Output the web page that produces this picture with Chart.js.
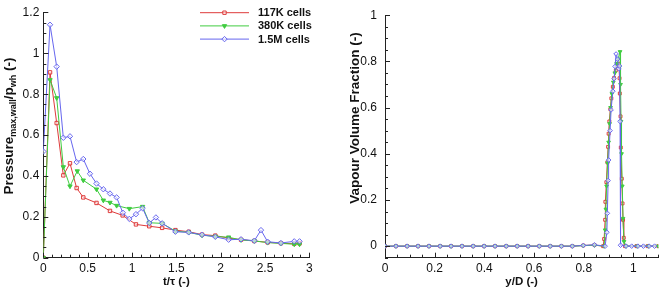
<!DOCTYPE html>
<html>
<head>
<meta charset="utf-8">
<script src="https://cdn.jsdelivr.net/npm/chart.js@4.4.0/dist/chart.umd.min.js"></script>
<style>
  html, body { margin: 0; padding: 0; background: #fff; }
  #wrap { position: relative; width: 664px; height: 298px; }
  .box { position: absolute; top: 0; width: 332px; height: 298px; }
</style>
</head>
<body>
<div id="wrap">
  <div class="box" style="left:0"><canvas id="left"></canvas></div>
  <div class="box" style="left:332px"><canvas id="right"></canvas></div>
</div>
<script>
// series names + colours
var seriesNames = ['117K cells', '380K cells', '1.5M cells'];
var colors = ['#de3a3a', '#40cc40', '#6666ee'];

// left plot: max wall pressure vs t/tau
var t117 = [0, 0.076, 0.151, 0.226, 0.301, 0.376, 0.451, 0.6, 0.752, 0.895, 1.045, 1.195, 1.34, 1.49, 1.64, 1.79, 1.94, 2.09, 2.23, 2.38, 2.53, 2.68, 2.83, 2.89];
var p117 = [0, 0.907, 0.659, 0.403, 0.462, 0.341, 0.295, 0.268, 0.229, 0.207, 0.163, 0.154, 0.146, 0.135, 0.127, 0.113, 0.108, 0.096, 0.088, 0.082, 0.075, 0.071, 0.068, 0.07];
var t380 = [0, 0.076, 0.151, 0.226, 0.301, 0.383, 0.451, 0.6, 0.677, 0.752, 0.827, 0.97, 1.12, 1.195, 1.34, 1.49, 1.64, 1.79, 1.94, 2.09, 2.23, 2.38, 2.53, 2.68, 2.83, 2.89];
var p380 = [0, 0.87, 0.782, 0.444, 0.35, 0.424, 0.379, 0.335, 0.281, 0.27, 0.255, 0.24, 0.25, 0.171, 0.168, 0.13, 0.124, 0.11, 0.104, 0.1, 0.087, 0.082, 0.074, 0.07, 0.066, 0.066];
var t15 = [0, 0.076, 0.151, 0.226, 0.301, 0.376, 0.451, 0.526, 0.6, 0.677, 0.752, 0.827, 0.897, 0.97, 1.045, 1.12, 1.195, 1.27, 1.34, 1.49, 1.64, 1.79, 1.94, 2.09, 2.23, 2.38, 2.455, 2.53, 2.68, 2.83, 2.89];
var p15 = [0.52, 1.14, 0.935, 0.587, 0.594, 0.468, 0.483, 0.411, 0.363, 0.335, 0.314, 0.295, 0.22, 0.19, 0.213, 0.242, 0.17, 0.197, 0.168, 0.127, 0.124, 0.112, 0.102, 0.088, 0.09, 0.083, 0.135, 0.078, 0.072, 0.08, 0.08];
var tTicks = [0, 0.5, 1, 1.5, 2, 2.5, 3];
var pTicks = [0, 0.2, 0.4, 0.6, 0.8, 1, 1.2];

// right plot: vapour volume fraction vs y/D
var yd117 = [0, 0.044, 0.089, 0.133, 0.177, 0.222, 0.266, 0.31, 0.355, 0.399, 0.443, 0.488, 0.532, 0.576, 0.621, 0.665, 0.71, 0.754, 0.798, 0.843, 0.878, 0.882, 0.886, 0.887, 0.891, 0.895, 0.898, 0.9, 0.903, 0.907, 0.911, 0.917, 0.922, 0.929, 0.936, 0.941, 0.944, 0.945, 0.948, 0.949, 0.953, 0.956, 0.958, 0.961, 0.966, 1.012, 1.057, 1.1];
var vf117 = [0, 0, 0, 0, 0, 0, 0, 0, 0, 0, 0, 0, 0, 0, 0, 0, 0, 0, 0.003, 0.005, 0, 0.031, 0.114, 0.192, 0.277, 0.363, 0.43, 0.487, 0.54, 0.593, 0.64, 0.69, 0.728, 0.761, 0.782, 0.79, 0.727, 0.661, 0.562, 0.427, 0.292, 0.185, 0.114, 0.036, 0, 0, 0, 0];
var yd380 = [0, 0.044, 0.089, 0.133, 0.177, 0.222, 0.266, 0.31, 0.355, 0.399, 0.443, 0.488, 0.532, 0.576, 0.621, 0.665, 0.71, 0.754, 0.798, 0.843, 0.882, 0.886, 0.889, 0.892, 0.896, 0.9, 0.904, 0.908, 0.913, 0.919, 0.925, 0.932, 0.938, 0.946, 0.948, 0.95, 0.952, 0.955, 0.958, 0.962, 0.97, 1.015, 1.06, 1.1];
var vf380 = [0, 0, 0, 0, 0, 0, 0, 0, 0, 0, 0, 0, 0, 0, 0, 0, 0, 0, 0.002, 0.004, 0, 0.07, 0.16, 0.26, 0.36, 0.45, 0.53, 0.6, 0.66, 0.71, 0.75, 0.79, 0.81, 0.842, 0.7, 0.54, 0.4, 0.26, 0.12, 0.02, 0, 0, 0, 0];
var yd15 = [0, 0.044, 0.089, 0.133, 0.177, 0.222, 0.266, 0.31, 0.355, 0.399, 0.443, 0.488, 0.532, 0.576, 0.621, 0.665, 0.71, 0.754, 0.798, 0.843, 0.886, 0.893, 0.895, 0.898, 0.9, 0.906, 0.91, 0.917, 0.922, 0.926, 0.93, 0.936, 0.941, 0.944, 0.946, 0.948, 0.97, 0.993, 1.018, 1.04, 1.063, 1.085];
var vf15 = [0, 0, 0, 0, 0, 0, 0, 0, 0, 0, 0, 0, 0, 0, 0, 0, 0, 0, 0.003, 0.006, 0, 0.06, 0.142, 0.284, 0.373, 0.5, 0.59, 0.671, 0.725, 0.778, 0.832, 0.81, 0.768, 0.78, 0.54, 0.004, 0, 0, 0, 0, 0, 0];
var ydTicks = [0, 0.2, 0.4, 0.6, 0.8, 1];
var vfTicks = [0, 0.2, 0.4, 0.6, 0.8, 1];

var FONT = 'Liberation Sans, Arial, sans-serif';
var markers = [
  { pointStyle: 'rect', rotation: 0, radius: 2.4, fill: 'rgba(255,255,255,0.6)' },
  { pointStyle: 'triangle', rotation: 180, radius: 2.5, fill: colors[1] },
  { pointStyle: 'rectRot', rotation: 0, radius: 2.7, fill: 'rgba(255,255,255,0.6)' }
];

function pairs(xs, ys) {
  return xs.map(function (x, i) { return { x: x, y: ys[i] }; });
}

function makeSet(i, xs, ys, k) {
  var m = markers[i];
  return {
    label: seriesNames[i],
    data: pairs(xs, ys),
    order: 2 - i, // blue drawn on top
    borderColor: colors[i],
    borderWidth: 1,
    tension: 0,
    pointStyle: m.pointStyle,
    pointRotation: m.rotation,
    pointRadius: m.radius * k,
    pointBorderWidth: 1,
    pointBorderColor: colors[i],
    pointBackgroundColor: m.fill
  };
}

function fmt(v) { return String(Math.round(v * 100) / 100); }

function axis(min, max, ticks, pad, size, isX) {
  var s = {
    type: 'linear', min: min, max: max,
    afterBuildTicks: function (sc) { sc.ticks = ticks.map(function (v) { return { value: v }; }); },
    grid: { display: true, drawOnChartArea: false, drawTicks: false },
    border: { display: true, color: '#222', width: 1 },
    ticks: { color: '#111', padding: pad, maxRotation: 0, font: { family: FONT, size: 12 }, callback: fmt }
  };
  if (isX) s.afterFit = function (sc) { sc.height = size; };
  else s.afterFit = function (sc) { sc.width = size; };
  return s;
}

// inward ticks, axis titles, legend
var decor = {
  id: 'decor',
  afterDraw: function (chart, args, o) {
    var ctx = chart.ctx, a = chart.chartArea, xs = chart.scales.x, ys = chart.scales.y;
    ctx.save();
    ctx.strokeStyle = '#222';
    ctx.lineWidth = 1;
    ctx.beginPath();
    var n = Math.round((xs.max - xs.min) / o.xMinor);
    for (var i = 0; i <= n; i++) {
      var v = xs.min + i * o.xMinor;
      var major = xs.ticks.some(function (t) { return Math.abs(t.value - v) < 1e-6; });
      var px = Math.round(xs.getPixelForValue(v)) + 0.5;
      ctx.moveTo(px, a.bottom);
      ctx.lineTo(px, a.bottom - (major ? 5 : 3));
    }
    n = Math.round((ys.max - ys.min) / o.yMinor);
    for (i = 0; i <= n; i++) {
      v = ys.min + i * o.yMinor;
      major = ys.ticks.some(function (t) { return Math.abs(t.value - v) < 1e-6; });
      var py = Math.round(ys.getPixelForValue(v)) + 0.5;
      ctx.moveTo(a.left, py);
      ctx.lineTo(a.left + (major ? 5 : 3), py);
    }
    ctx.stroke();

    // x title
    ctx.fillStyle = '#111';
    ctx.font = 'bold 11.5px ' + FONT;
    ctx.textAlign = 'center';
    ctx.textBaseline = 'middle';
    ctx.fillText(o.xTitle, (a.left + a.right) / 2, 282);

    // y title (rotated, with optional subscripts)
    var big = 13.5, small = 9;
    ctx.translate(o.yTitleX, o.yTitleY);
    ctx.rotate(-Math.PI / 2);
    ctx.textAlign = 'left';
    ctx.textBaseline = 'alphabetic';
    var w = 0;
    o.yTitle.forEach(function (seg) {
      ctx.font = 'bold ' + (seg.sub ? small : big) + 'px ' + FONT;
      w += ctx.measureText(seg.t).width;
    });
    var x = -w / 2;
    o.yTitle.forEach(function (seg) {
      ctx.font = 'bold ' + (seg.sub ? small : big) + 'px ' + FONT;
      ctx.fillText(seg.t, x, seg.sub ? 3 : 0);
      x += ctx.measureText(seg.t).width;
    });
    ctx.restore();

    // legend
    if (o.legend) {
      ctx.save();
      chart.data.datasets.forEach(function (d, k) {
        var y = 12.7 + k * 13.2;
        ctx.strokeStyle = d.borderColor;
        ctx.lineWidth = 1;
        ctx.beginPath();
        ctx.moveTo(200, y);
        ctx.lineTo(249, y);
        ctx.stroke();
        ctx.fillStyle = d.pointBackgroundColor;
        Chart.helpers.drawPoint(ctx, { pointStyle: d.pointStyle, rotation: d.pointRotation, radius: d.pointRadius, borderWidth: 1 }, 224.5, y);
        ctx.fillStyle = '#111';
        ctx.font = 'bold 11px ' + FONT;
        ctx.textAlign = 'left';
        ctx.textBaseline = 'middle';
        ctx.fillText(d.label, 258, y + 0.5);
      });
      ctx.restore();
    }
  }
};

new Chart(document.getElementById('left'), {
  type: 'line',
  data: { datasets: [makeSet(0, t117, p117, 1), makeSet(1, t380, p380, 1), makeSet(2, t15, p15, 1)] },
  options: {
    responsive: true, maintainAspectRatio: false, animation: false,
    layout: { padding: { left: 0, right: 22.7, top: 12.5, bottom: 0 } },
    scales: {
      x: axis(0, 3, tTicks, 4, 40.3, true),
      y: axis(0, 1.2, pTicks, 4, 43.3, false)
    },
    plugins: {
      legend: { display: false }, tooltip: { enabled: false },
      decor: {
        xMinor: 0.1, yMinor: 0.05, xTitle: 't/\u03c4 (-)', legend: true,
        yTitleX: 13, yTitleY: 126,
        yTitle: [{ t: 'Pressure' }, { t: 'max,wall', sub: true }, { t: '/p' }, { t: 'wh', sub: true }, { t: ' (-)' }]
      }
    }
  },
  plugins: [decor]
});

new Chart(document.getElementById('right'), {
  type: 'line',
  data: { datasets: [makeSet(0, yd117, vf117, 0.85), makeSet(1, yd380, vf380, 0.85), makeSet(2, yd15, vf15, 0.85)] },
  options: {
    responsive: true, maintainAspectRatio: false, animation: false,
    layout: { padding: { left: 0, right: 5.7, top: 12.3, bottom: 0 } },
    scales: {
      x: axis(0, 1.1, ydTicks, 4, 40.3, true),
      y: axis(-0.05, 1, vfTicks, 8, 53, false)
    },
    plugins: {
      legend: { display: false }, tooltip: { enabled: false },
      decor: {
        xMinor: 0.05, yMinor: 0.05, xTitle: 'y/D (-)', legend: false,
        yTitleX: 27, yTitleY: 118,
        yTitle: [{ t: 'Vapour Volume Fraction (-)' }]
      }
    }
  },
  plugins: [decor]
});
</script>
</body>
</html>
